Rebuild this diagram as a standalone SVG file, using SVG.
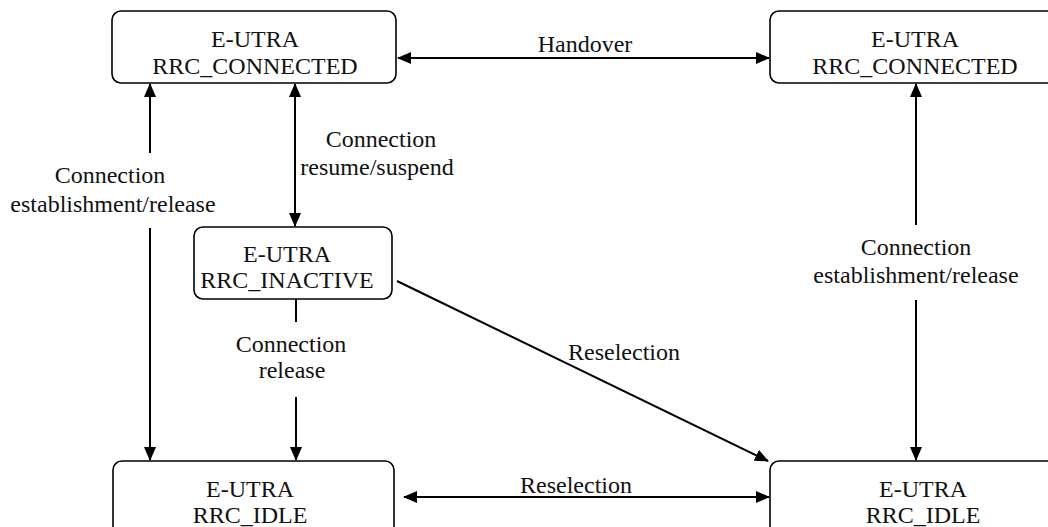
<svg xmlns="http://www.w3.org/2000/svg" width="1048" height="527" viewBox="0 0 1048 527">
<defs>
<marker id="ah" markerUnits="userSpaceOnUse" markerWidth="14" markerHeight="12" viewBox="0 0 14 12" refX="13" refY="6" orient="auto-start-reverse">
<path d="M0,0 L14,6 L0,12 z" fill="#000"/>
</marker>
<style>
.box{fill:#fff;stroke:#000;stroke-width:1.6}
.t{font-family:"Liberation Serif","Times New Roman",serif;font-size:24px;fill:#111;text-anchor:middle}
.c{stroke:#000;stroke-width:2;fill:none}
</style>
</defs>
<rect width="1048" height="527" fill="#fff"/>
<g id="connectors">
<line class="c" x1="398" y1="58" x2="769" y2="58" marker-start="url(#ah)" marker-end="url(#ah)"/>
<line class="c" x1="150" y1="153" x2="150" y2="84" marker-end="url(#ah)"/>
<line class="c" x1="150" y1="228" x2="150" y2="460" marker-end="url(#ah)"/>
<line class="c" x1="295" y1="84" x2="295" y2="226" marker-start="url(#ah)" marker-end="url(#ah)"/>
<line class="c" x1="296" y1="299" x2="296" y2="322"/>
<line class="c" x1="296" y1="397" x2="296" y2="460" marker-end="url(#ah)"/>
<line class="c" x1="397" y1="281" x2="768" y2="461" marker-end="url(#ah)"/>
<line class="c" x1="404" y1="497" x2="769" y2="497" marker-start="url(#ah)" marker-end="url(#ah)"/>
<line class="c" x1="916" y1="225" x2="916" y2="84" marker-end="url(#ah)"/>
<line class="c" x1="916" y1="300" x2="916" y2="460" marker-end="url(#ah)"/>
<text class="t" x="585" y="52">Handover</text>
<text class="t" x="110" y="183">Connection</text>
<text class="t" x="113" y="212">establishment/release</text>
<text class="t" x="381" y="147">Connection</text>
<text class="t" x="377" y="175">resume/suspend</text>
<text class="t" x="291" y="352">Connection</text>
<text class="t" x="292" y="378">release</text>
<text class="t" x="624" y="360">Reselection</text>
<text class="t" x="916" y="255">Connection</text>
<text class="t" x="916" y="283">establishment/release</text>
<text class="t" x="576" y="493">Reselection</text>
</g>
<g id="node-connected-left">
<rect class="box" x="112" y="11" width="284" height="72" rx="9"/>
<text class="t" x="255" y="47">E-UTRA</text>
<text class="t" x="255" y="74">RRC_CONNECTED</text>
</g>
<g id="node-connected-right">
<rect class="box" x="770" y="11" width="290" height="72" rx="9"/>
<text class="t" x="915" y="47">E-UTRA</text>
<text class="t" x="915" y="74">RRC_CONNECTED</text>
</g>
<g id="node-inactive">
<rect class="box" x="194" y="227" width="198" height="72" rx="9"/>
<text class="t" x="287" y="262">E-UTRA</text>
<text class="t" x="287" y="288">RRC_INACTIVE</text>
</g>
<g id="node-idle-left">
<rect class="box" x="113" y="461" width="281" height="80" rx="9"/>
<text class="t" x="250" y="497">E-UTRA</text>
<text class="t" x="250" y="523">RRC_IDLE</text>
</g>
<g id="node-idle-right">
<rect class="box" x="770" y="461" width="300" height="80" rx="9"/>
<text class="t" x="923" y="497">E-UTRA</text>
<text class="t" x="923" y="523">RRC_IDLE</text>
</g>
</svg>
